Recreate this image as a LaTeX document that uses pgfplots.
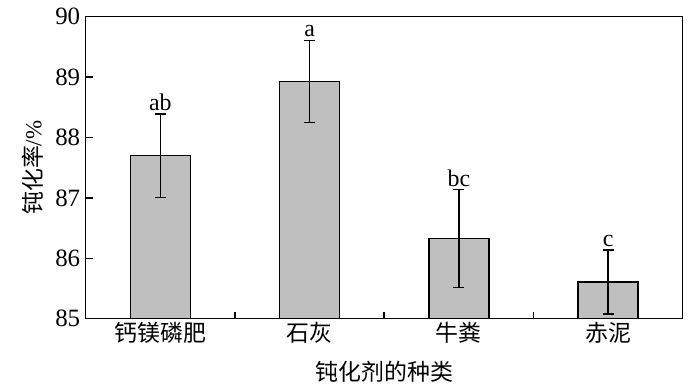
\documentclass[border=0pt]{standalone}
\usepackage{pgfplots}
\pgfplotsset{compat=1.18}
\usepackage{fontspec}
\setmainfont{Liberation Serif}
\newfontfamily\cjk{Noto Sans CJK SC}
\begin{document}
\begin{tikzpicture}
\useasboundingbox (0,0) rectangle (700bp,389bp);
\begin{axis}[
 at={(85.7bp,70.3bp)}, anchor=south west,
 scale only axis, width=597bp, height=302bp,
 xmin=-0.5, xmax=3.5, ymin=85, ymax=90,
 ytick={85,86,87,88,89,90},
 xtick={0,1,2,3},
 xticklabels={{\cjk 钙镁磷肥},{\cjk 石灰},{\cjk 牛粪},{\cjk 赤泥}},
 minor xtick={0.5,1.5,2.5},
 major x tick style={draw=none},
 tick align=inside, ytick pos=left, xtick pos=bottom,
 major tick length=7bp, minor tick length=7bp,
 axis line style={line width=1.5bp},
 every tick/.style={line width=1.5bp, black},
 yticklabel style={font=\fontsize{25}{28}\selectfont, xshift=-2bp},
 xticklabel style={font=\fontsize{23}{26}\selectfont},
 /pgf/number format/assume math mode=true,
 xlabel={{\cjk 钝化剂的种类}}, ylabel={{\cjk 钝化率}/\%},
 every axis x label/.style={at={(axis description cs:0.5,0)}, yshift=-53bp, anchor=center, font=\fontsize{23}{26}\selectfont},
 every axis y label/.style={at={(axis description cs:0,0.5)}, xshift=-53bp, anchor=center, rotate=90, font=\fontsize{23}{26}\selectfont},
]
\addplot[ybar, bar width=60bp, fill=black!25, draw=black, line width=1.5bp,
  error bars/.cd, y dir=both, y explicit,
  error bar style={line width=1.5bp, black},
  error mark options={rotate=90, mark size=5.5bp, line width=1.5bp, black}]
 coordinates {(0,87.70) +- (0,0.69) (1,88.93) +- (0,0.68) (2,86.33) +- (0,0.81) (3,85.61) +- (0,0.53)};
\begin{scope}[every node/.style={anchor=south, inner sep=0bp, yshift=3bp, font=\fontsize{24}{26}\selectfont}]
\node at (axis cs:0,88.39) {ab};
\node at (axis cs:1,89.61) {a};
\node at (axis cs:2,87.14) {bc};
\node at (axis cs:3,86.14) {c};
\end{scope}
\end{axis}
\end{tikzpicture}
\end{document}
